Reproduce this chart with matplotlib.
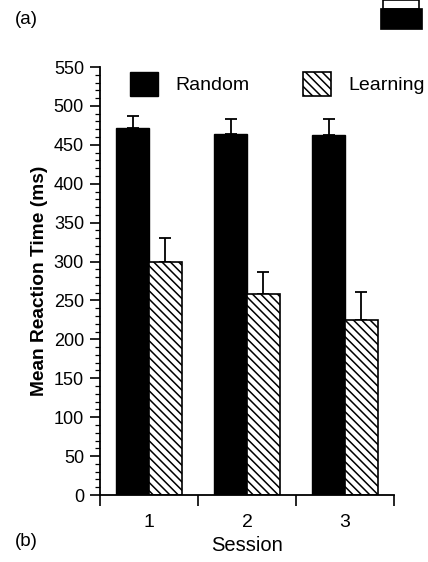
import matplotlib
matplotlib.use("Agg")
import matplotlib.pyplot as plt
from matplotlib.patches import Rectangle
from matplotlib.ticker import MultipleLocator, FixedLocator, NullFormatter
import numpy as np

sessions = ["1", "2", "3"]
random_rt = [471, 464, 463]
random_err = [16, 19, 20]
learning_rt = [300, 258, 225]
learning_err = [30, 29, 36]
series_names = ["Random", "Learning"]
y_ticks = [0, 50, 100, 150, 200, 250, 300, 350, 400, 450, 500, 550]

plt.rcParams['font.family'] = ['Liberation Sans', 'DejaVu Sans']
plt.rcParams['hatch.linewidth'] = 1.1
plt.rcParams['hatch.color'] = 'black'

W, H = 428, 562
fig = plt.figure(figsize=(W / 100, H / 100), dpi=100)
ax = fig.add_axes([100 / W, 1 - 495 / H, (394 - 100) / W, (495 - 67) / H])

x = np.arange(1, len(sessions) + 1)
bw = 0.335
ax.bar(x - 0.168, random_rt, width=bw, color='black', edgecolor='black',
       linewidth=1.0, label=series_names[0], zorder=2)
ax.bar(x + 0.168, learning_rt, width=bw, color='white', edgecolor='black',
       hatch='\\\\\\\\', linewidth=1.2, label=series_names[1], zorder=2)

ax.errorbar(x - 0.168, random_rt, yerr=[np.zeros(3), random_err], fmt='none',
            ecolor='black', elinewidth=1.3, capsize=4.5, capthick=1.3, zorder=1)
ax.errorbar(x + 0.168, learning_rt, yerr=[np.zeros(3), learning_err], fmt='none',
            ecolor='black', elinewidth=1.3, capsize=4.5, capthick=1.3, zorder=1)

ax.set_xlim(0.5, len(sessions) + 0.5)
ax.set_ylim(0, 550)
ax.set_yticks(y_ticks)
ax.yaxis.set_minor_locator(MultipleLocator(10))
ax.xaxis.set_major_locator(FixedLocator(np.arange(0.5, len(sessions) + 1, 1.0)))
ax.xaxis.set_major_formatter(NullFormatter())
ax.xaxis.set_minor_locator(FixedLocator(x))
ax.set_xticklabels(sessions, minor=True)

for s in ['top', 'right']:
    ax.spines[s].set_visible(False)
for s in ['left', 'bottom']:
    ax.spines[s].set_linewidth(1.3)

ax.tick_params(axis='y', which='major', length=7, width=1.2, labelsize=13, pad=4.5)
ax.tick_params(axis='y', which='minor', length=3.5, width=0.9)
ax.tick_params(axis='x', which='major', length=8, width=1.2)
ax.tick_params(axis='x', which='minor', length=0, labelsize=14, pad=14)

ax.set_xlabel("Session", fontsize=14.5, labelpad=3)
ax.set_ylabel("Mean Reaction Time (ms)", fontsize=13.8, fontweight='bold', labelpad=4)

fs = 14
em = fs * 100 / 72
ax.legend(ncol=2, loc='upper left', bbox_to_anchor=(130 / W, 1 - 72 / H),
          bbox_transform=fig.transFigure, frameon=False, fontsize=fs,
          handlelength=28 / em, handleheight=1.52, handletextpad=17 / em,
          columnspacing=54 / em, borderaxespad=0, borderpad=0)

fig.text(15 / W, 1 - 19 / H, "(a)", fontsize=13.5, ha='left', va='center')
fig.text(15 / W, 1 - 541 / H, "(b)", fontsize=13.5, ha='left', va='center')

# cropped panel fragment in top-right corner
fig.patches.append(Rectangle((383 / W, 1 - 9 / H), 36 / W, 9 / H, transform=fig.transFigure,
                             facecolor='white', edgecolor='black', linewidth=1.2))
fig.patches.append(Rectangle((380 / W, 1 - 29 / H), 42 / W, 21 / H, transform=fig.transFigure,
                             facecolor='black', edgecolor='black', linewidth=0.5))

fig.savefig("out.png", dpi=100)
